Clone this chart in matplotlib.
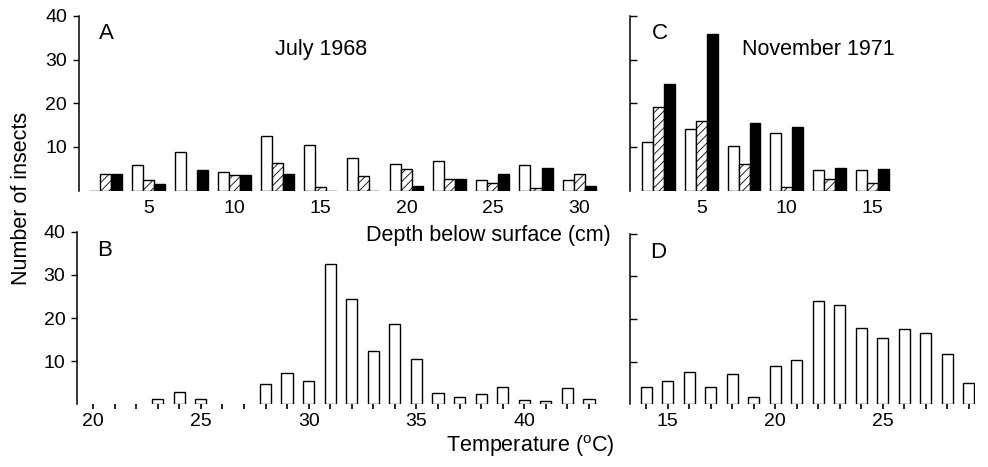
import matplotlib
matplotlib.use('Agg')
import matplotlib.pyplot as plt
import numpy as np

plt.rcParams['font.family'] = ['Liberation Sans', 'DejaVu Sans']
plt.rcParams['mathtext.fontset'] = 'custom'
plt.rcParams['mathtext.rm'] = 'Liberation Sans'
plt.rcParams['hatch.linewidth'] = 0.6

# A: July 1968, depth groups (cm)
depth_a = [2.5, 5, 7.5, 10, 12.5, 15, 17.5, 20, 22.5, 25, 27.5, 30]
white_a = [0, 5.8, 8.8, 4.2, 12.4, 10.5, 7.5, 6.1, 6.8, 2.4, 5.8, 2.5]
hatch_a = [3.7, 2.5, 0, 3.5, 6.2, 0.8, 3.3, 5.0, 2.7, 1.8, 0.6, 3.9]
black_a = [3.7, 1.6, 4.7, 3.5, 3.8, 0, 0, 1.0, 2.7, 3.9, 5.2, 1.0]

# C: November 1971
depth_c = [2.5, 5, 7.5, 10, 12.5, 15]
white_c = [11.1, 14.0, 10.1, 13.2, 4.7, 4.7]
hatch_c = [19.1, 16.0, 6.0, 0.8, 2.6, 1.7]
black_c = [24.3, 35.9, 15.5, 14.6, 5.2, 5.0]

# B: July 1968, temperature (C)
temp_b = np.arange(20, 44)
count_b = [0, 0, 0, 1.2, 2.8, 1.2, 0, 0, 4.7, 7.2, 5.5, 32.6, 24.3, 12.3,
           18.7, 10.5, 2.6, 1.8, 2.3, 4.0, 1.0, 0.9, 3.9, 1.2]

# D: November 1971
temp_d = np.arange(14, 30)
count_d = [4.1, 5.4, 7.6, 4.1, 7.1, 1.8, 9.1, 10.3, 24.3, 23.3, 18.0, 15.6,
           17.6, 16.8, 11.9, 4.9]

fig = plt.figure(figsize=(9.88, 4.67), dpi=100)

ax_a = fig.add_axes([0.080, 0.592, 0.527, 0.374])
ax_c = fig.add_axes([0.638, 0.592, 0.349, 0.374])
ax_b = fig.add_axes([0.078, 0.134, 0.529, 0.370])
ax_d = fig.add_axes([0.638, 0.134, 0.349, 0.366])

lw = 1.0
bw = 0.64
for ax, d, w, h, b in [(ax_a, depth_a, white_a, hatch_a, black_a),
                       (ax_c, depth_c, white_c, hatch_c, black_c)]:
    d = np.array(d)
    ax.bar(d - bw, w, width=bw, color='white', edgecolor='black', linewidth=lw)
    ax.bar(d, h, width=bw, color='white', edgecolor='black', linewidth=lw, hatch='////')
    ax.bar(d + bw, b, width=bw, color='black', edgecolor='black', linewidth=lw)

# temperature classes with no insects get no bar, only the tick
cb = np.array(count_b)
ax_b.bar(temp_b[cb > 0], cb[cb > 0], width=0.52, color='white', edgecolor='black', linewidth=lw)
ax_d.bar(temp_d, count_d, width=0.52, color='white', edgecolor='black', linewidth=lw)

ax_a.set_xlim(0.96, 31.2)
ax_c.set_xlim(0.86, 21.0)
ax_b.set_xlim(19.26, 43.5)
ax_d.set_xlim(13.26, 29.3)

fs_tick = 14
fs_lab = 15.5

for ax in [ax_a, ax_b, ax_c, ax_d]:
    ax.set_ylim(0, 40)
    for s in ['top', 'right', 'bottom']:
        ax.spines[s].set_visible(False)
    ax.spines['left'].set_linewidth(1.1)
    ax.set_yticks([10, 20, 30, 40])
    ax.tick_params(axis='y', length=4, width=1.0, labelsize=fs_tick, pad=4.5)

ax_c.tick_params(axis='y', direction='in', labelleft=False, length=5)
ax_d.tick_params(axis='y', direction='in', labelleft=False, length=5)

ax_a.set_xticks([5, 10, 15, 20, 25, 30])
ax_c.set_xticks([5, 10, 15])
for ax in [ax_a, ax_c]:
    ax.tick_params(axis='x', length=0, labelsize=fs_tick, pad=7)

ax_b.set_xticks(temp_b, minor=True)
ax_b.set_xticks([20, 25, 30, 35, 40])
ax_d.set_xticks(temp_d, minor=True)
ax_d.set_xticks([15, 20, 25])
for ax in [ax_b, ax_d]:
    ax.tick_params(axis='x', which='both', length=3.5, width=1.2, labelsize=fs_tick, pad=3)

ax_a.text(0.053, 0.90, 'A', transform=ax_a.transAxes, fontsize=16, va='center', ha='center')
ax_a.text(0.465, 0.81, 'July 1968', transform=ax_a.transAxes, fontsize=fs_lab, va='center', ha='center')
ax_c.text(0.085, 0.90, 'C', transform=ax_c.transAxes, fontsize=16, va='center', ha='center')
ax_c.text(0.545, 0.81, 'November 1971', transform=ax_c.transAxes, fontsize=fs_lab, va='center', ha='center')
ax_b.text(0.053, 0.89, 'B', transform=ax_b.transAxes, fontsize=16, va='center', ha='center')
ax_d.text(0.08, 0.89, 'D', transform=ax_d.transAxes, fontsize=16, va='center', ha='center')

fig.text(0.494, 0.495, 'Depth below surface (cm)', fontsize=fs_lab, ha='center', va='center')
fig.text(0.537, 0.045, r'Temperature ($^{\mathrm{o}}$C)', fontsize=fs_lab, ha='center', va='center')
fig.text(0.022, 0.575, 'Number of insects', fontsize=fs_lab, rotation=90, ha='center', va='center')

fig.savefig('out.png', dpi=100)
